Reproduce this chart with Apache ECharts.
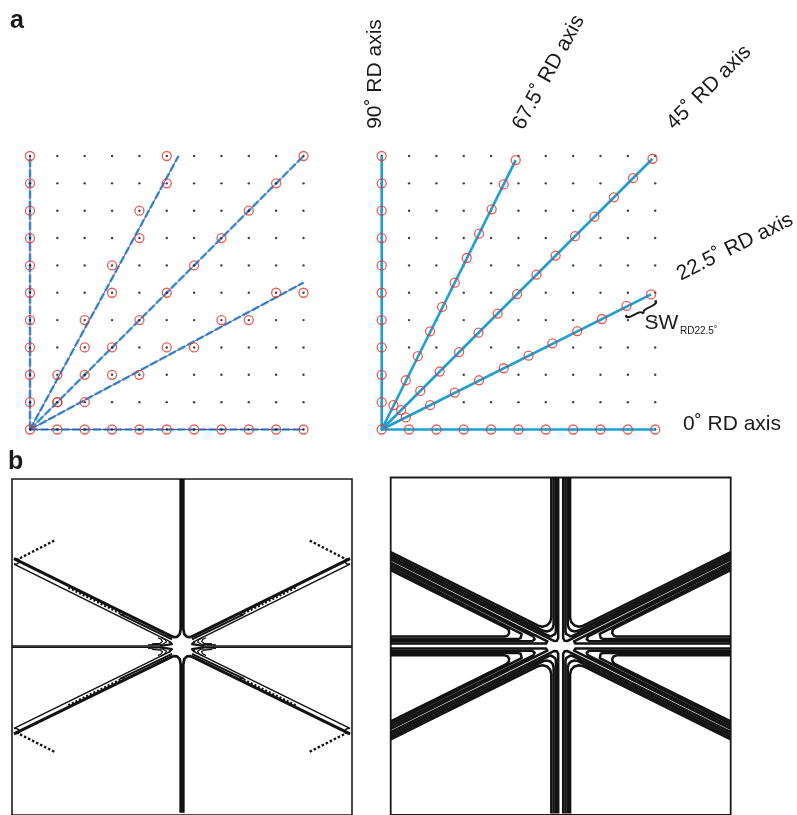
<!DOCTYPE html>
<html><head><meta charset="utf-8">
<script src="https://cdn.jsdelivr.net/npm/echarts@6/dist/echarts.min.js"></script>
<style>html,body{margin:0;padding:0;background:#fff}#c{width:797px;height:815px}</style>
</head><body><div id="c"></div>
<script>
// ---------- panel a : lattice ----------
const ticks = [0,1,2,3,4,5,6,7,8,9,10];

// left map: lattice points picked for each RD axis, and the drawn axis lines
const leftRD0  = [[0,0],[10,0]];
const leftRD22 = [[0,0],[10,5.37]];
const leftRD45 = [[0,0],[10,10]];
const leftRD67 = [[0,0],[5.43,10]];
const leftRD90 = [[0,0],[0,10]];
const leftPts0  = [[0,0],[1,0],[2,0],[3,0],[4,0],[5,0],[6,0],[7,0],[8,0],[9,0],[10,0]];
const leftPts90 = [[0,1],[0,2],[0,3],[0,4],[0,5],[0,6],[0,7],[0,8],[0,9],[0,10]];
const leftPts22 = [[2,1],[3,2],[4,2],[5,3],[6,3],[7,4],[8,4],[9,5],[10,5]];
const leftPts45 = [[1,1],[2,2],[3,3],[4,4],[5,5],[6,6],[7,7],[8,8],[9,9],[10,10]];
const leftPts67 = [[1,1],[1,2],[2,3],[2,4],[3,5],[3,6],[4,7],[4,8],[5,9],[5,10]];

// right map: points sampled along each RD axis at unit spacing
const rightRD0  = [[0,0],[10,0]];
const rightRD22 = [[0,0],[9.85,4.94]];
const rightRD45 = [[0,0],[9.9,9.9]];
const rightRD67 = [[0,0],[4.9,9.85]];
const rightRD90 = [[0,0],[0,10]];
const rightPts0  = [[0,0],[1,0],[2,0],[3,0],[4,0],[5,0],[6,0],[7,0],[8,0],[9,0],[10,0]];
const rightPts90 = [[0,1],[0,2],[0,3],[0,4],[0,5],[0,6],[0,7],[0,8],[0,9],[0,10]];
const rightPts22 = [[0.88,0.44],[1.77,0.89],[2.67,1.35],[3.56,1.80],[4.46,2.24],[5.37,2.70],[6.24,3.15],[7.15,3.60],[8.05,4.04],[8.95,4.52],[9.85,4.94]];
const rightPts45 = [[0.71,0.71],[1.41,1.41],[2.12,2.12],[2.83,2.83],[3.54,3.54],[4.24,4.24],[4.95,4.95],[5.66,5.66],[6.36,6.36],[7.07,7.07],[7.78,7.78],[8.49,8.49],[9.19,9.19],[9.9,9.9]];
const rightPts67 = [[0.43,0.89],[0.88,1.80],[1.32,2.68],[1.77,3.59],[2.21,4.48],[2.67,5.37],[3.11,6.27],[3.56,7.16],[4.02,8.05],[4.46,8.96],[4.90,9.85]];

// ---------- panel b : contour traces (one quadrant, px from centre, mirrored by inverse axes) ----------
// left map
const lVert     = [[1.3,167.7],[1.3,18],[2.3,12.5],[5,9.8],[9,9.5]];
const lArmMain  = [[9,9.5],[168,88]];
const lArmMid   = [[10,7.3],[62,32.5]];
const lArmInner = [[13,5.5],[168,82.5]];
const lArmDots  = [[58,31.5],[114,59.3]];
const lHoriz    = [[22,0.7],[170,0.7]];
const lHole     = [[13,5.5],[11.5,4.5],[10,2.5],[11,0.8],[22,0.7]];
const lSwirl1   = [[34,1.8],[19,2.6],[15.5,4.6],[17,7.2],[21,9.3]];
const lSwirl2   = [[30,2.8],[22,3.4],[19.5,5.2],[21,7.4],[24,9]];
const lHookLoop = [[168,88],[163.5,87.5],[162.5,85.2],[164.5,83],[168,82.5]];
const lHookDots = [[162,88.5],[126,107]];
// right map
const rA1 = [[2.5,168.5],[2.5,7.76],[2.9,6.26],[3.92,5.21],[5.4,4.76],[6.84,5.08],[170,86.7]];
const rA2 = [[4.8,168.5],[4.8,14.64],[5.48,12.14],[7.18,10.38],[9.64,9.64],[12.05,10.17],[170,89.1]];
const rA3 = [[7.1,168.5],[7.1,21.49],[8.05,17.99],[10.43,15.53],[13.87,14.49],[17.24,15.23],[170,91.6]];
const rA4 = [[9.4,168.5],[9.4,28.3],[10.6,23.8],[13.7,20.6],[18.1,19.3],[22.5,20.3],[170,94.0]];
const rB1 = [[170,2.5],[14.7,2.5],[13.78,2.82],[13.24,3.66],[13.34,4.63],[14.03,5.34],[170,83.3]];
const rB2 = [[170,4.8],[28.45,4.8],[26.91,5.33],[26.02,6.72],[26.18,8.36],[27.33,9.54],[170,80.9]];
const rB3 = [[170,7.1],[42.21,7.1],[40.05,7.84],[38.8,9.79],[39.04,12.08],[40.65,13.73],[170,78.4]];
const rB4 = [[170,9.4],[55.94,9.4],[53.17,10.35],[51.56,12.86],[51.86,15.8],[53.93,17.92],[170,75.9]];

// ---------- layout ----------
const FONT = '"Liberation Sans", Arial, Helvetica, sans-serif';
const RED = '#E5332A', CYAN = '#1E9FD4', CYAN2 = '#3AB2E2', PURPLE = '#5B3F98', INK = '#121212';

const grids = [], xAxes = [], yAxes = [];
function addGrid(g, xr, yr, xinv, yinv) {
  grids.push(Object.assign({containLabel:false}, g));
  const i = grids.length - 1;
  xAxes.push({gridIndex:i, type:'value', min:xr[0], max:xr[1], inverse:!!xinv, show:false});
  yAxes.push({gridIndex:i, type:'value', min:yr[0], max:yr[1], inverse:!!yinv, show:false});
  return i;
}
const gA1 = addGrid({left:30, top:156, width:273.5, height:273.5}, [0,10], [0,10]);
const gA2 = addGrid({left:381.7, top:156, width:273.5, height:273.5}, [0,10], [0,10]);
// panel b left
addGrid({left:12, top:479, width:340, height:340, show:true, borderColor:'#1a1a1a', borderWidth:1.6, backgroundColor:'rgba(0,0,0,0)'}, [0,1], [0,1]);
const qL = [
  addGrid({left:182, top:479, width:170, height:167.7}, [0,170], [0,167.7], false, false),
  addGrid({left:12,  top:479, width:170, height:167.7}, [0,170], [0,167.7], true, false),
  addGrid({left:182, top:646.7, width:170, height:170}, [0,170], [0,170], false, true),
  addGrid({left:12,  top:646.7, width:170, height:170}, [0,170], [0,170], true, true)
];
// panel b right
addGrid({left:390.7, top:477.5, width:340, height:340, show:true, borderColor:'#1a1a1a', borderWidth:1.8, backgroundColor:'rgba(0,0,0,0)'}, [0,1], [0,1]);
const qR = [
  addGrid({left:560.7, top:477.5, width:170, height:168.5}, [0,170], [0,168.5], false, false),
  addGrid({left:390.7, top:477.5, width:170, height:168.5}, [0,170], [0,168.5], true, false),
  addGrid({left:560.7, top:646, width:170, height:170}, [0,170], [0,170], false, true),
  addGrid({left:390.7, top:646, width:170, height:170}, [0,170], [0,170], true, true)
];

const series = [];
function line(g, data, color, width, z, dash) {
  series.push({type:'line', xAxisIndex:g, yAxisIndex:g, data:data, symbol:'none', showSymbol:false,
    clip:false, silent:true, z:z, lineStyle:{color:color, width:width, type:dash || 'solid', cap:'butt', join:'round'}});
}
function pts(g, data, z) {
  series.push({type:'scatter', xAxisIndex:g, yAxisIndex:g, data:data, symbol:'circle', symbolSize:9,
    clip:false, silent:true, z:z, itemStyle:{color:'rgba(0,0,0,0)', borderColor:RED, borderWidth:1.3}});
}
function dots(g, z) {
  const d = [];
  ticks.forEach(x => ticks.forEach(y => d.push([x, y])));
  series.push({type:'scatter', xAxisIndex:g, yAxisIndex:g, data:d, symbol:'circle', symbolSize:2.4,
    clip:false, silent:true, z:z, itemStyle:{color:'#111'}});
}

// left lattice
[leftRD0, leftRD22, leftRD45, leftRD67, leftRD90].forEach(d => line(gA1, d, CYAN2, 2.6, 3, [8,2.5]));
[leftRD0, leftRD22, leftRD45, leftRD67, leftRD90].forEach(d => line(gA1, d, PURPLE, 0.9, 4));
[leftPts0, leftPts90, leftPts22, leftPts45, leftPts67].forEach(d => pts(gA1, d, 5));
dots(gA1, 6);
// right lattice
dots(gA2, 2);
[rightRD0, rightRD22, rightRD45, rightRD67, rightRD90].forEach(d => line(gA2, d, CYAN, 2.6, 3));
[rightPts0, rightPts90, rightPts22, rightPts45, rightPts67].forEach(d => pts(gA2, d, 5));

// panel b left contours
qL.forEach(g => {
  line(g, lVert, INK, 2.7, 3);
  line(g, lArmMain, INK, 3.1, 3);
  line(g, lArmMid, INK, 2.0, 3);
  line(g, lArmInner, INK, 1.5, 3);
  line(g, lArmDots, INK, 2.4, 3, [2,2]);
  line(g, lHoriz, INK, 1.4, 3);
  line(g, lHole, INK, 2.2, 3);
  line(g, lSwirl1, INK, 1.2, 3);
  line(g, lSwirl2, INK, 1.2, 3);
  line(g, lHookLoop, INK, 1.5, 3);
  line(g, lHookDots, INK, 2.4, 3, [2.5,2]);
});
// panel b right contours
qR.forEach(g => {
  [rA1, rA2, rA3, rA4, rB1, rB2, rB3, rB4].forEach(d => line(g, d, INK, 2.5, 3));
});

function txt(s, x, y, size, rot, opts) {
  return Object.assign({type:'text', x:x, y:y, rotation:rot || 0, silent:true, z:100,
    style:{text:s, font:(opts && opts.bold ? 'bold ' : '') + size + 'px ' + FONT, fill:'#1a1a1a',
      textAlign:(opts && opts.align) || 'center', textVerticalAlign:'middle',
      align:(opts && opts.align) || 'center', verticalAlign:'middle'}}, (opts && opts.extra) || {});
}
const D = Math.PI / 180;
const graphic = [
  txt('a', 10, 21.5, 25, 0, {bold:true, align:'left'}),
  txt('b', 8, 462, 25, 0, {bold:true, align:'left'}),
  txt('90\u02DA RD axis', 375.7, 74, 21, 90 * D),
  txt('67.5\u02DA RD axis', 548.7, 72.5, 21, 61 * D),
  txt('45\u02DA RD axis', 709, 87.5, 21, 45 * D),
  txt('22.5\u02DA RD axis', 735, 247, 21, 26.6 * D),
  txt('0\u02DA RD axis', 683, 424.7, 21, 0, {align:'left'}),
  txt('SW', 644.5, 323.4, 21, 0, {align:'left'}),
  txt('RD22.5\u02DA', 680, 331, 10, 0, {align:'left'}),
  txt('{', 641.5, 311, 38, 116.6 * D, {extra:{scaleX:0.6}})
];

const chart = echarts.init(document.getElementById('c'), null, {renderer:'canvas'});
chart.setOption({
  animation:false,
  backgroundColor:'#ffffff',
  grid:grids, xAxis:xAxes, yAxis:yAxes,
  series:series,
  graphic:graphic
});
</script></body></html>
